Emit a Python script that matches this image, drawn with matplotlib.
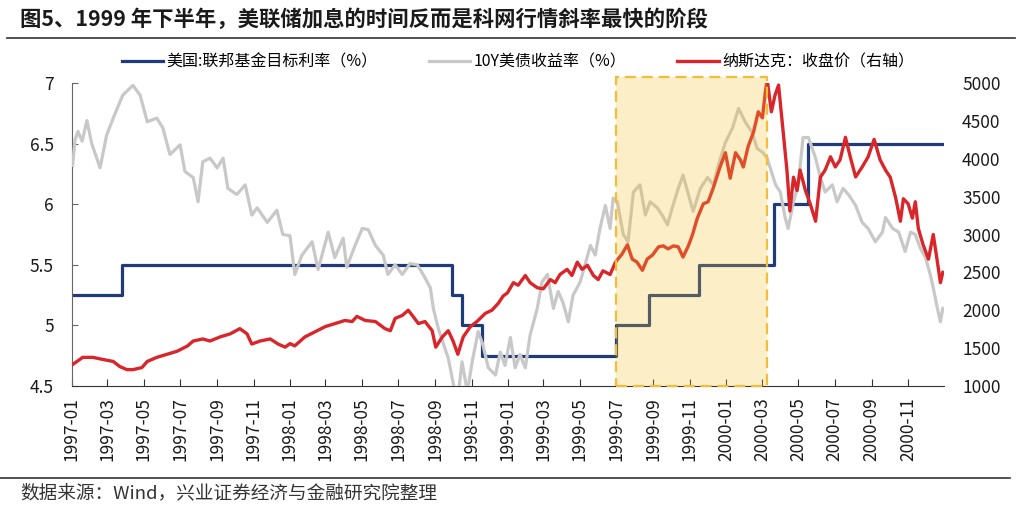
import matplotlib
matplotlib.use("Agg")
import matplotlib.pyplot as plt
import matplotlib.dates as mdates
from matplotlib.lines import Line2D
from matplotlib.patches import Rectangle
from matplotlib.ticker import FuncFormatter
from matplotlib.transforms import blended_transform_factory
import pandas as pd

plt.rcParams["font.family"] = ["Noto Sans CJK SC", "DejaVu Sans"]

# Fed funds target rate (step changes)
fed_dates = ["1997-01-01", "1997-03-26", "1998-09-30", "1998-10-16", "1998-11-18",
             "1999-07-01", "1999-08-25", "1999-11-17", "2000-03-22", "2000-05-17",
             "2000-12-29"]
fed_rate = [5.25, 5.50, 5.25, 5.00, 4.75, 5.00, 5.25, 5.50, 6.00, 6.50, 6.50]

# 10Y treasury yield
ust_dates = [
    "1997-01-02", "1997-01-06", "1997-01-11", "1997-01-18", "1997-01-26", "1997-02-03",
    "1997-02-17", "1997-02-28", "1997-03-11", "1997-03-27", "1997-04-13", "1997-04-25",
    "1997-05-07", "1997-05-23", "1997-06-02", "1997-06-14", "1997-07-01", "1997-07-09",
    "1997-07-23", "1997-07-31", "1997-08-08", "1997-08-20", "1997-09-01", "1997-09-11",
    "1997-09-19", "1997-10-04", "1997-10-18", "1997-10-29", "1997-11-07", "1997-11-24",
    "1997-12-10", "1997-12-20",
    "1998-01-01", "1998-01-09", "1998-01-21", "1998-02-07", "1998-02-17", "1998-03-06",
    "1998-03-17", "1998-03-31", "1998-04-06", "1998-04-20", "1998-05-02", "1998-05-12",
    "1998-05-24", "1998-06-06", "1998-06-14", "1998-06-26", "1998-07-08", "1998-07-21",
    "1998-08-02", "1998-08-12", "1998-08-24", "1998-08-29", "1998-09-06", "1998-09-14",
    "1998-09-23", "1998-10-01", "1998-10-08", "1998-10-16", "1998-10-25", "1998-11-02",
    "1998-11-12", "1998-11-20", "1998-11-29", "1998-12-11", "1998-12-19", "1998-12-27",
    "1999-01-05", "1999-01-13", "1999-01-21", "1999-01-30", "1999-02-07", "1999-02-19",
    "1999-02-27", "1999-03-08", "1999-03-18", "1999-03-26", "1999-04-03", "1999-04-12",
    "1999-04-20", "1999-05-02", "1999-05-10", "1999-05-19", "1999-05-27", "1999-06-04",
    "1999-06-13", "1999-06-21", "1999-06-26", "1999-07-03", "1999-07-13", "1999-07-21",
    "1999-07-30", "1999-08-10", "1999-08-19", "1999-08-27", "1999-09-08", "1999-09-16",
    "1999-09-25", "1999-10-03", "1999-10-13", "1999-10-21", "1999-10-30", "1999-11-07",
    "1999-11-19", "1999-12-01", "1999-12-11", "1999-12-19", "1999-12-31",
    "2000-01-12", "2000-01-22", "2000-02-02", "2000-02-14", "2000-02-22", "2000-03-02",
    "2000-03-10", "2000-03-15", "2000-03-24", "2000-04-01", "2000-04-09", "2000-04-14",
    "2000-04-23", "2000-05-01", "2000-05-09", "2000-05-18", "2000-05-30", "2000-06-07",
    "2000-06-15", "2000-06-27", "2000-07-05", "2000-07-15", "2000-07-24", "2000-08-05",
    "2000-08-16", "2000-08-26", "2000-09-07", "2000-09-19", "2000-09-24", "2000-10-06",
    "2000-10-16", "2000-10-27", "2000-11-05", "2000-11-13", "2000-11-21", "2000-11-30",
    "2000-12-08", "2000-12-13", "2000-12-20", "2000-12-25", "2000-12-29",
]
ust_10y = [
    6.32, 6.53, 6.60, 6.52, 6.69, 6.50,
    6.30, 6.57, 6.71, 6.90, 6.98, 6.90,
    6.68, 6.71, 6.63, 6.41, 6.49, 6.27,
    6.22, 6.02, 6.35, 6.38, 6.30, 6.38,
    6.13, 6.08, 6.16, 5.91, 5.97, 5.85,
    5.95, 5.75,
    5.74, 5.42, 5.58, 5.69, 5.46, 5.77,
    5.56, 5.72, 5.48, 5.66, 5.80, 5.79,
    5.66, 5.58, 5.42, 5.50, 5.42, 5.51,
    5.50, 5.42, 5.31, 5.14, 4.98, 4.86,
    4.73, 4.53, 4.35, 4.70, 4.45, 4.70,
    4.95, 4.84, 4.65, 4.59, 4.78, 4.67,
    4.90, 4.65, 4.76, 4.65, 4.92, 5.14,
    5.36, 5.42, 5.14, 5.28, 5.19, 5.03,
    5.25, 5.36, 5.50, 5.66, 5.58, 5.80,
    5.99, 5.80, 6.05, 6.02, 5.75, 5.69,
    6.10, 6.16, 5.91, 6.02, 5.97, 5.91,
    5.83, 5.97, 6.13, 6.24, 6.08, 5.94,
    6.13, 6.22, 6.16, 6.32, 6.51,
    6.63, 6.79, 6.68, 6.59, 6.46, 6.43,
    6.38, 6.30, 6.16, 6.10, 5.89, 5.80,
    6.02, 6.16, 6.55, 6.55, 6.38, 6.22,
    6.10, 6.16, 6.02, 6.13, 6.08, 5.99,
    5.85, 5.80, 5.69, 5.77, 5.89, 5.80,
    5.77, 5.61, 5.77, 5.75, 5.64, 5.56,
    5.42, 5.31, 5.14, 5.03, 5.14,
]

# Nasdaq close (right axis)
ndx_dates = [
    "1997-01-02", "1997-01-19", "1997-02-05", "1997-02-22", "1997-03-11", "1997-03-22",
    "1997-04-03", "1997-04-13", "1997-04-28", "1997-05-07", "1997-05-23", "1997-06-09",
    "1997-06-26", "1997-07-13", "1997-07-23", "1997-08-08", "1997-08-20", "1997-09-06",
    "1997-09-23", "1997-10-09", "1997-10-21", "1997-10-29", "1997-11-12", "1997-11-29",
    "1997-12-12", "1997-12-24",
    "1998-01-01", "1998-01-09", "1998-01-26", "1998-02-12", "1998-03-01", "1998-03-17",
    "1998-04-03", "1998-04-15", "1998-04-23", "1998-05-07", "1998-05-24", "1998-06-09",
    "1998-06-18", "1998-06-26", "1998-07-08", "1998-07-18", "1998-07-26", "1998-08-04",
    "1998-08-15", "1998-08-27", "1998-09-02", "1998-09-13", "1998-09-23", "1998-10-01",
    "1998-10-09", "1998-10-18", "1998-10-30", "1998-11-10", "1998-11-24", "1998-12-05",
    "1998-12-16", "1998-12-24", "1998-12-31",
    "1999-01-10", "1999-01-18", "1999-01-30", "1999-02-07", "1999-02-19", "1999-03-01",
    "1999-03-13", "1999-03-21", "1999-03-29", "1999-04-10", "1999-04-18", "1999-04-27",
    "1999-05-05", "1999-05-14", "1999-05-24", "1999-06-01", "1999-06-09", "1999-06-21",
    "1999-06-30", "1999-07-11", "1999-07-20", "1999-07-28", "1999-08-05", "1999-08-14",
    "1999-08-22", "1999-08-31", "1999-09-10", "1999-09-18", "1999-09-26", "1999-10-05",
    "1999-10-13", "1999-10-21", "1999-10-30", "1999-11-06", "1999-11-14", "1999-11-24",
    "1999-12-02", "1999-12-11", "1999-12-22", "1999-12-31",
    "2000-01-08", "2000-01-17", "2000-01-25", "2000-01-30", "2000-02-07", "2000-02-16",
    "2000-02-24", "2000-03-02", "2000-03-07", "2000-03-10", "2000-03-17", "2000-03-23",
    "2000-03-29", "2000-04-04", "2000-04-12", "2000-04-17", "2000-04-23", "2000-04-29",
    "2000-05-04", "2000-05-13", "2000-05-21", "2000-05-30", "2000-06-07", "2000-06-15",
    "2000-06-24", "2000-07-02", "2000-07-10", "2000-07-19", "2000-07-27", "2000-08-05",
    "2000-08-16", "2000-08-26", "2000-09-05", "2000-09-15", "2000-09-24", "2000-10-02",
    "2000-10-11", "2000-10-19", "2000-10-24", "2000-11-01", "2000-11-08", "2000-11-13",
    "2000-11-18", "2000-11-26", "2000-12-05", "2000-12-13", "2000-12-20", "2000-12-25",
    "2000-12-29",
]
ndx_close = [
    1284, 1378, 1378, 1350, 1324, 1257,
    1216, 1216, 1243, 1324, 1378, 1419,
    1459, 1527, 1594, 1621, 1594, 1648,
    1689, 1757, 1689, 1554, 1594, 1621,
    1554, 1513,
    1560, 1530, 1648, 1716, 1784, 1824,
    1865, 1851, 1919, 1865, 1851, 1757,
    1730, 1892, 1932, 2000, 1919, 1824,
    1851, 1730, 1513, 1648, 1730, 1594,
    1419, 1648, 1784, 1851, 1959, 2000,
    2094, 2189, 2229,
    2364, 2330, 2459, 2364, 2297, 2283,
    2405, 2364, 2472, 2540, 2459, 2635,
    2540, 2594, 2459, 2405, 2520, 2472,
    2635, 2743, 2864, 2675, 2635, 2527,
    2675, 2729, 2837, 2850, 2810, 2850,
    2837, 2702, 2850, 3000, 3216, 3405,
    3432, 3621, 3891, 4080,
    3743, 4080, 3986, 3891, 4161, 4350,
    4620, 4540, 4891, 5040, 4620, 4837,
    4972, 4486, 3851, 3310, 3756, 3580,
    3851, 3580, 3405, 3175, 3756, 3851,
    4026, 3891, 3986, 4283, 4026, 3760,
    3891, 4026, 4256, 3986, 3851, 3756,
    3486, 3175, 3472, 3405, 3216, 3432,
    3081, 2864, 2675, 3000, 2635, 2364,
    2500,
]

hike_start = "1999-07-01"
hike_end = "2000-03-10"

title = "图5、1999 年下半年，美联储加息的时间反而是科网行情斜率最快的阶段"
source = "数据来源：Wind，兴业证券经济与金融研究院整理"
labels = ["美国:联邦基金目标利率（%）", "10Y美债收益率（%）", "纳斯达克：收盘价（右轴）"]

c_fed = "#1F3B7A"
c_ust = "#C8C8C8"
c_ndx = "#D9262A"

fig = plt.figure(figsize=(10.24, 5.09), dpi=100)
ax1 = fig.add_axes([72 / 1024, 1 - 386 / 509, 872 / 1024, 303 / 509])
ax2 = ax1.twinx()

l1, = ax1.plot(pd.to_datetime(fed_dates), fed_rate, color=c_fed, lw=2.3,
               drawstyle="steps-post", zorder=2)
l2, = ax1.plot(pd.to_datetime(ust_dates), ust_10y, color=c_ust, lw=2.3, zorder=3)
l3, = ax2.plot(pd.to_datetime(ndx_dates), ndx_close, color=c_ndx, lw=2.4, zorder=2)

ax1.set_ylim(4.5, 7)
ax1.set_yticks([4.5, 5, 5.5, 6, 6.5, 7])
ax1.yaxis.set_major_formatter(FuncFormatter(lambda v, p: f"{v:g}"))
ax2.set_ylim(1000, 5000)
ax2.set_yticks(range(1000, 5001, 500))

ax1.set_xlim(pd.Timestamp("1997-01-01"), pd.Timestamp("2000-12-31"))
ax1.xaxis.set_major_locator(mdates.MonthLocator(bymonth=[1, 3, 5, 7, 9, 11]))
ax1.xaxis.set_major_formatter(mdates.DateFormatter("%Y-%m"))
for lab in ax1.get_xticklabels():
    lab.set_rotation(90)

for ax in (ax1, ax2):
    ax.spines["top"].set_visible(False)
    ax.spines["right"].set_visible(False)
ax2.spines["left"].set_visible(False)
ax2.spines["bottom"].set_visible(False)
ax1.spines["left"].set_color("#666666")
ax1.spines["bottom"].set_color("#333333")

ax1.tick_params(axis="y", direction="in", length=4, color="#666666",
                labelsize=12.5, pad=13, labelcolor="#1a1a1a")
ax1.tick_params(axis="x", direction="in", length=5, color="#333333",
                labelsize=12.5, pad=8, labelcolor="#1a1a1a")
ax2.tick_params(axis="y", length=0, labelsize=12.5, pad=13, labelcolor="#1a1a1a")

# highlighted hiking window, drawn over the lines
tr = blended_transform_factory(ax2.transData, ax2.transAxes)
x0 = mdates.date2num(pd.Timestamp(hike_start))
x1 = mdates.date2num(pd.Timestamp(hike_end))
ax2.add_patch(Rectangle((x0, 0), x1 - x0, 1.02, transform=tr, facecolor="#F7C323",
                        alpha=0.25, edgecolor="none", zorder=5, clip_on=False))
ax2.add_patch(Rectangle((x0, 0), x1 - x0, 1.02, transform=tr, facecolor="none",
                        edgecolor="#F2BE3A", lw=1.6, linestyle=(0, (5, 2.6)),
                        zorder=6, clip_on=False))

fig.legend([l1, l2, l3], labels, loc="center", bbox_to_anchor=(518 / 1024, 1 - 62 / 509),
           ncol=3, frameon=False, fontsize=11.5, handlelength=2.6, handletextpad=0.2,
           columnspacing=3.2)

fig.text(20 / 1024, 1 - 19 / 509, title, fontsize=15.4, fontweight="bold",
         ha="left", va="center", color="#1a1a1a")
fig.add_artist(Line2D([7 / 1024, 1015 / 1024], [1 - 37.5 / 509, 1 - 37.5 / 509],
                      transform=fig.transFigure, color="#333333", lw=1.2))
fig.add_artist(Line2D([0, 1010 / 1024], [1 - 478 / 509, 1 - 478 / 509],
                      transform=fig.transFigure, color="#333333", lw=1.2))
fig.text(20 / 1024, 1 - 493 / 509, source, fontsize=13.4, ha="left", va="center",
         color="#333333")

fig.savefig("out.png", dpi=100)
